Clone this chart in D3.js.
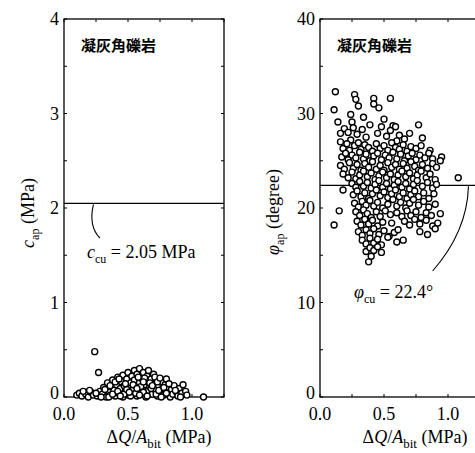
<!DOCTYPE html>
<html lang="ja">
<head>
  <meta charset="UTF-8">
  <title>凝灰角礫岩</title>
  <style>
    body { margin: 0; background: #fff; }
    svg { display: block; }
    text { font-family: "Liberation Serif", "DejaVu Serif", serif; fill: #000; }
    .rock { font-family: "Noto Sans CJK JP", sans-serif; font-weight: bold; font-size: 15px; }
  </style>
</head>
<body>
  <svg width="475" height="453"></svg>

  <script src="https://d3js.org/d3.v7.min.js"></script>
  <script>
  // データ：ΔQ/A_bit (MPa) と c_ap (MPa)
  var cPoints = [
    [0.10,0.02],[0.12,0.04],[0.14,0.01],[0.17,0.03],[0.19,0.00],[0.21,0.05],[0.23,0.02],[0.24,0.48],[0.27,0.26],[0.26,0.01],
    [0.28,0.06],[0.30,0.03],[0.31,0.10],[0.33,0.00],[0.34,0.15],[0.35,0.05],[0.36,0.02],[0.37,0.11],[0.38,0.18],[0.39,0.07],
    [0.40,0.01],[0.41,0.13],[0.42,0.21],[0.43,0.04],[0.44,0.09],[0.45,0.16],[0.46,0.00],[0.46,0.23],[0.47,0.12],[0.48,0.06],
    [0.49,0.19],[0.50,0.02],[0.50,0.26],[0.51,0.10],[0.52,0.15],[0.53,0.22],[0.53,0.04],[0.54,0.08],[0.55,0.28],[0.55,0.18],
    [0.56,0.12],[0.57,0.01],[0.57,0.24],[0.58,0.06],[0.59,0.30],[0.59,0.15],[0.60,0.20],[0.61,0.09],[0.61,0.03],[0.62,0.26],
    [0.63,0.13],[0.64,0.17],[0.64,0.00],[0.65,0.22],[0.66,0.07],[0.66,0.28],[0.67,0.11],[0.68,0.19],[0.69,0.03],[0.70,0.24],
    [0.70,0.14],[0.71,0.08],[0.72,0.18],[0.73,0.01],[0.74,0.12],[0.75,0.05],[0.76,0.16],[0.77,0.09],[0.78,0.02],[0.79,0.13],
    [0.80,0.19],[0.81,0.06],[0.82,0.10],[0.83,0.00],[0.84,0.08],[0.85,0.03],[0.86,0.12],[0.88,0.05],[0.89,0.01],[0.90,0.09],
    [0.92,0.04],[0.93,0.13],[0.95,0.06],[0.96,0.02],[1.09,0.00],
    [0.15,0.06],[0.20,0.07],[0.25,0.04],[0.29,0.00],[0.32,0.08],[0.36,0.12],[0.40,0.16],[0.43,0.19],[0.47,0.03],[0.49,0.08],
    [0.52,0.01],[0.54,0.13],[0.56,0.04],[0.58,0.21],[0.60,0.11],[0.62,0.05],[0.63,0.20],[0.65,0.01],[0.67,0.15],[0.68,0.09],
    [0.71,0.21],[0.72,0.03],[0.74,0.07],[0.76,0.00],[0.78,0.10],[0.80,0.04],[0.82,0.14],[0.87,0.07],[0.91,0.00],[0.35,0.00],
    [0.38,0.03],[0.42,0.06],[0.44,0.01],[0.48,0.14],[0.51,0.05],[0.57,0.09],[0.59,0.02],[0.62,0.16],[0.69,0.12],[0.73,0.16],
    [0.75,0.20]
  ];

  // データ：ΔQ/A_bit (MPa) と φ_ap (degree)
  var phiPoints = [
    [0.12,32.3],[0.11,30.4],[0.27,32.0],[0.28,31.5],[0.42,31.6],[0.42,31.0],[0.55,31.6],[0.46,30.6],[0.30,30.8],[0.14,29.1],
    [0.24,29.9],[0.34,29.6],[0.50,29.4],[0.77,28.8],[0.57,28.7],[0.59,28.6],[0.80,27.4],[0.16,27.9],[0.16,27.0],[0.95,25.4],
    [0.94,25.0],[1.08,23.2],[0.18,21.9],[0.15,19.7],[0.11,18.2],[0.38,14.3],[0.40,14.9],
    [0.19,28.4],[0.22,28.0],[0.25,29.1],[0.26,28.5],[0.29,27.8],[0.33,28.3],[0.36,27.5],[0.45,27.9],[0.48,28.6],[0.52,27.6],
    [0.55,28.2],[0.62,27.7],[0.66,27.3],[0.70,27.9],[0.24,27.2],[0.39,28.8],[0.60,27.1],
    [0.18,26.3],[0.21,26.8],[0.23,26.1],[0.27,26.6],[0.30,26.9],[0.32,26.2],[0.35,26.7],[0.38,26.4],[0.41,26.0],[0.44,26.8],
    [0.47,26.3],[0.50,26.6],[0.53,26.1],[0.56,26.9],[0.59,26.4],[0.62,26.2],[0.65,26.7],[0.68,26.0],[0.71,26.5],[0.75,26.3],
    [0.79,26.6],[0.86,26.1],
    [0.17,25.4],[0.20,25.8],[0.22,25.1],[0.25,25.6],[0.28,25.3],[0.31,25.9],[0.34,25.2],[0.36,25.7],[0.39,25.0],[0.42,25.5],
    [0.45,25.8],[0.48,25.1],[0.51,25.6],[0.54,25.3],[0.57,25.9],[0.60,25.2],[0.63,25.7],[0.66,25.0],[0.69,25.5],[0.72,25.8],
    [0.75,25.1],[0.78,25.6],[0.82,25.3],[0.85,25.8],[0.88,25.2],
    [0.16,24.5],[0.19,24.1],[0.23,24.8],[0.26,24.2],[0.29,24.6],[0.32,24.0],[0.35,24.7],[0.38,24.3],[0.41,24.9],[0.44,24.1],
    [0.47,24.5],[0.50,24.0],[0.53,24.8],[0.56,24.3],[0.59,24.6],[0.62,24.1],[0.65,24.7],[0.68,24.2],[0.71,24.9],[0.74,24.4],
    [0.77,24.0],[0.80,24.6],[0.84,24.2],[0.88,24.7],[0.91,24.3],
    [0.18,23.6],[0.22,23.2],[0.25,23.8],[0.28,23.1],[0.31,23.5],[0.34,23.9],[0.37,23.3],[0.40,23.7],[0.43,23.0],[0.46,23.4],
    [0.49,23.8],[0.52,23.2],[0.55,23.6],[0.58,23.0],[0.61,23.5],[0.64,23.9],[0.67,23.3],[0.70,23.7],[0.73,23.1],[0.76,23.5],
    [0.79,23.9],[0.83,23.2],[0.86,23.6],[0.90,23.0],
    [0.25,22.6],[0.28,22.2],[0.31,22.8],[0.34,22.3],[0.37,22.7],[0.40,22.1],[0.43,22.5],[0.46,22.9],[0.49,22.2],[0.52,22.6],
    [0.55,22.0],[0.58,22.4],[0.61,22.8],[0.64,22.2],[0.67,22.6],[0.70,22.0],[0.73,22.5],[0.76,22.9],[0.80,22.3],[0.84,22.7],
    [0.88,22.1],[0.91,22.5],
    [0.26,21.4],[0.29,21.8],[0.32,21.2],[0.35,21.6],[0.38,21.0],[0.41,21.5],[0.44,21.9],[0.47,21.3],[0.50,21.7],[0.53,21.1],
    [0.56,21.5],[0.59,21.9],[0.62,21.2],[0.65,21.6],[0.68,21.0],[0.71,21.4],[0.74,21.8],[0.77,21.2],[0.81,21.6],[0.85,21.0],
    [0.89,21.5],
    [0.27,20.5],[0.30,20.1],[0.33,20.7],[0.36,20.3],[0.39,20.8],[0.42,20.2],[0.45,20.6],[0.49,20.0],[0.53,20.4],[0.57,20.9],
    [0.60,20.2],[0.63,20.6],[0.67,20.0],[0.70,20.5],[0.73,20.9],[0.77,20.3],[0.81,20.7],[0.85,20.1],[0.90,20.4],
    [0.28,19.6],[0.31,19.2],[0.34,19.8],[0.37,19.4],[0.40,19.0],[0.44,19.6],[0.47,19.1],[0.51,19.7],[0.55,19.3],[0.60,19.5],
    [0.64,19.1],[0.68,19.7],[0.71,19.2],[0.75,19.6],[0.79,19.0],[0.83,19.5],[0.87,19.2],[0.94,19.4],
    [0.29,18.6],[0.32,18.2],[0.35,18.8],[0.38,18.3],[0.41,18.7],[0.45,18.1],[0.49,18.5],[0.56,18.4],[0.66,18.6],[0.70,18.2],
    [0.74,18.8],[0.78,18.3],[0.83,18.7],[0.88,18.1],[0.92,18.4],
    [0.30,17.5],[0.33,17.1],[0.36,17.7],[0.39,17.3],[0.42,17.8],[0.46,17.2],[0.50,17.6],[0.54,17.0],[0.58,17.4],[0.61,17.7],
    [0.78,17.5],[0.90,17.8],[0.84,17.2],
    [0.33,16.6],[0.36,16.2],[0.39,16.8],[0.42,16.3],[0.45,16.7],[0.48,16.1],[0.53,16.9],[0.60,16.4],[0.65,16.6],
    [0.36,15.4],[0.39,15.8],[0.42,15.5],[0.45,15.9],[0.48,15.3]
  ];

  var xTicks = [0, 0.25, 0.5, 0.75, 1.0, 1.25];
  var xTickLabels = ["0.0", "0.5", "1.0"];
  var cTicks = [0, 1, 2, 3, 4];
  var phiTicks = [0, 10, 20, 30, 40];
  var cCu = 2.05;
  var phiCu = 22.4;

  var svg = d3.select("svg");

  // パネル描画
  function panel(opt) {
    var x = d3.scaleLinear().domain([0, 1.25]).range([opt.left, opt.left + 160]);
    var y = d3.scaleLinear().domain([0, opt.ymax]).range([397, 19]);
    var g = svg.append("g");

    // 枠
    g.append("rect")
      .attr("x", x(0)).attr("y", y(opt.ymax))
      .attr("width", x(1.25) - x(0)).attr("height", y(0) - y(opt.ymax))
      .attr("fill", "none").attr("stroke", "#000").attr("stroke-width", 1.3);

    // 目盛り（内向き）
    var yAll = d3.range(0, opt.ymax + 0.001, opt.ymax / 8);
    g.selectAll(".ytl").data(yAll).enter().append("line")
      .attr("x1", x(0)).attr("x2", x(0) + 3)
      .attr("y1", function(d) { return y(d); }).attr("y2", function(d) { return y(d); })
      .attr("stroke", "#000");
    g.selectAll(".ytr").data(yAll).enter().append("line")
      .attr("x1", x(1.25)).attr("x2", x(1.25) - 3)
      .attr("y1", function(d) { return y(d); }).attr("y2", function(d) { return y(d); })
      .attr("stroke", "#000");
    g.selectAll(".xtb").data(xTicks).enter().append("line")
      .attr("x1", function(d) { return x(d); }).attr("x2", function(d) { return x(d); })
      .attr("y1", y(0)).attr("y2", y(0) - 3)
      .attr("stroke", "#000");
    g.selectAll(".xtt").data(xTicks).enter().append("line")
      .attr("x1", function(d) { return x(d); }).attr("x2", function(d) { return x(d); })
      .attr("y1", y(opt.ymax)).attr("y2", y(opt.ymax) + 3)
      .attr("stroke", "#000");

    // 目盛りラベル（0 は x ラベルと重ならないよう少し上げる）
    g.selectAll(".yl").data(opt.yTicks).enter().append("text")
      .attr("x", x(0) - 5)
      .attr("y", function(d) { return d === 0 ? y(d) - 4 : y(d); })
      .attr("dy", "0.34em")
      .attr("text-anchor", "end")
      .attr("font-size", 18)
      .text(function(d) { return d; });
    g.selectAll(".xl").data(xTickLabels).enter().append("text")
      .attr("x", function(d) { return x(+d); })
      .attr("y", 420)
      .attr("text-anchor", "middle")
      .attr("font-size", 18)
      .text(function(d) { return d; });

    // 平均線
    g.append("line")
      .attr("x1", x(0)).attr("x2", x(1.25))
      .attr("y1", y(opt.cu)).attr("y2", y(opt.cu))
      .attr("stroke", "#000").attr("stroke-width", 1.2);

    // 散布点
    g.selectAll(".pt").data(opt.points).enter().append("circle")
      .attr("cx", function(d) { return x(d[0]); })
      .attr("cy", function(d) { return y(d[1]); })
      .attr("r", 3)
      .attr("fill", "#fff")
      .attr("stroke", "#000")
      .attr("stroke-width", 1.4);

    // 岩種ラベル
    g.append("text").attr("class", "rock")
      .attr("x", x(0) + 17).attr("y", 51)
      .text("凝灰角礫岩");

    // x軸タイトル
    var xt = g.append("text")
      .attr("x", x(0.625) + 15).attr("y", 443)
      .attr("text-anchor", "middle")
      .attr("font-size", 18);
    xt.append("tspan").text("Δ");
    xt.append("tspan").attr("font-style", "italic").text("Q");
    xt.append("tspan").text("/");
    xt.append("tspan").attr("font-style", "italic").text("A");
    xt.append("tspan").attr("font-size", 13).attr("dy", 5).text("bit");
    xt.append("tspan").attr("dy", -5).text(" (MPa)");

    return { x: x, y: y, g: g };
  }

  var left = panel({ left: 64, ymax: 4, yTicks: cTicks, points: cPoints, cu: cCu });
  var right = panel({ left: 320, ymax: 40, yTicks: phiTicks, points: phiPoints, cu: phiCu });

  // y軸タイトル
  var ytl = svg.append("text")
    .attr("transform", "translate(34,213) rotate(-90)")
    .attr("text-anchor", "middle")
    .attr("font-size", 18);
  ytl.append("tspan").attr("font-style", "italic").text("c");
  ytl.append("tspan").attr("font-size", 12).attr("dy", 5).text("ap");
  ytl.append("tspan").attr("dy", -5).text(" (MPa)");

  var ytr = svg.append("text")
    .attr("transform", "translate(279,212) rotate(-90)")
    .attr("text-anchor", "middle")
    .attr("font-size", 18);
  ytr.append("tspan").attr("font-style", "italic").text("φ");
  ytr.append("tspan").attr("font-size", 12).attr("dy", 5).text("ap");
  ytr.append("tspan").attr("dy", -5).text(" (degree)");

  // 注記
  var al = svg.append("text").attr("x", 87).attr("y", 258).attr("font-size", 18);
  al.append("tspan").attr("font-style", "italic").text("c");
  al.append("tspan").attr("font-size", 12).attr("dy", 5).text("cu");
  al.append("tspan").attr("dy", -5).text(" = 2.05 MPa");

  var ar = svg.append("text").attr("x", 354).attr("y", 298).attr("font-size", 18);
  ar.append("tspan").attr("font-style", "italic").text("φ");
  ar.append("tspan").attr("font-size", 12).attr("dy", 5).text("cu");
  ar.append("tspan").attr("dy", -5).text(" = 22.4°");

  // 引出線
  svg.append("path")
    .attr("d", "M" + left.x(0.23) + "," + (left.y(cCu) + 1) + " Q" + (left.x(0.19)) + "," + 226 + " " + left.x(0.28) + "," + 238)
    .attr("fill", "none").attr("stroke", "#000").attr("stroke-width", 1.1);
  svg.append("path")
    .attr("d", "M" + right.x(1.16) + "," + (right.y(phiCu) + 1) + " Q" + 467 + "," + 232 + " " + right.x(0.88) + "," + 271)
    .attr("fill", "none").attr("stroke", "#000").attr("stroke-width", 1.1);
  </script>
</body>
</html>
